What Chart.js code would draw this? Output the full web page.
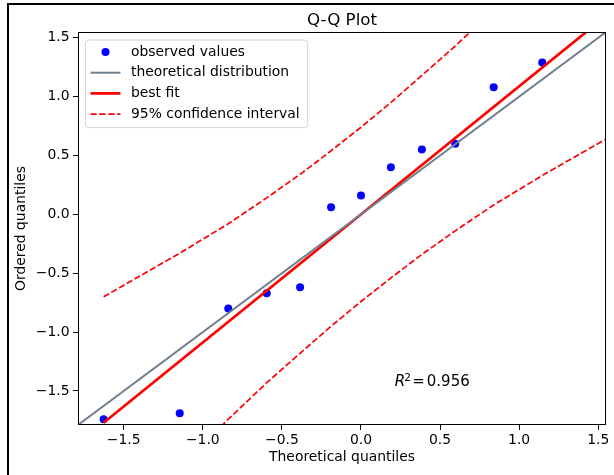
<!DOCTYPE html>
<html>
<head>
<meta charset="utf-8">
<title>Q-Q Plot</title>
<script src="https://cdn.jsdelivr.net/npm/chart.js@4.4.1/dist/chart.umd.min.js"></script>
<style>
  html, body { margin: 0; padding: 0; background: #fff; }
  #wrap { position: relative; width: 614px; height: 475px; }
  #frame {
    position: absolute; left: 7px; top: 3px; right: 0; bottom: 0;
    border-left: 2px solid #000; border-top: 2px solid #000;
    pointer-events: none;
  }
</style>
</head>
<body>
<div id="wrap">
  <canvas id="qq" width="614" height="475"></canvas>
  <div id="frame"></div>
</div>
<script>
// --- datos ---
const theoQuantiles = [-1.627, -1.146, -0.839, -0.596, -0.385, -0.189, 0.0, 0.189, 0.385, 0.596, 0.839, 1.146, 1.627];
const observedValues = [-1.74, -1.69, -0.80, -0.67, -0.62, 0.06, 0.16, 0.40, 0.55, 0.60, 1.08, 1.29];
const fitEndsX = [-1.627, 1.627];
const fitEndsY = [-1.77, 1.77];
const ciUpper = [-0.70, -0.33, -0.08, 0.14, 0.34, 0.54, 0.74, 0.95, 1.18, 1.43, 1.74, 2.16, 2.84];
const ciLower = [-2.84, -2.16, -1.74, -1.43, -1.18, -0.95, -0.74, -0.54, -0.34, -0.14, 0.08, 0.33, 0.70];
const axisRange = [-1.789, 1.549];
const tickValues = [-1.5, -1.0, -0.5, 0.0, 0.5, 1.0, 1.5];
const rSquared = 0.956;

const FONT = "'DejaVu Sans', 'Liberation Sans', sans-serif";
const TXT = 13.9;   // 10pt
Chart.defaults.font.family = FONT;
Chart.defaults.color = '#000';

const pts = (xs, ys) => ys.map((y, i) => ({ x: xs[i], y }));
const fmtTick = v => (Math.abs(v) < 1e-9 ? 0 : v).toFixed(1).replace('-', '\u2212');

// leyenda + R^2 + marco de los ejes (estilo matplotlib)
const qqOverlay = {
  id: 'qqOverlay',
  afterDatasetsDraw(chart) {
    const { ctx, chartArea: a } = chart;
    ctx.save();

    // spines
    ctx.strokeStyle = '#000';
    ctx.lineWidth = 1;
    ctx.strokeRect(Math.round(a.left) + 0.5, Math.round(a.top) + 0.5,
      Math.round(a.right - a.left) - 1, Math.round(a.bottom - a.top) - 1);

    // R^2
    const rx = a.left + 0.6 * (a.right - a.left);
    const ry = a.bottom - 0.098 * (a.bottom - a.top);
    ctx.fillStyle = '#000';
    ctx.textBaseline = 'alphabetic';
    ctx.textAlign = 'left';
    ctx.font = 'italic 15px ' + FONT;
    ctx.fillText('R', rx, ry);
    ctx.font = '10.5px ' + FONT;
    ctx.fillText('2', rx + 9.5, ry - 5);
    ctx.font = '15px ' + FONT;
    ctx.fillText('=', rx + 17.5, ry);
    ctx.fillText(rSquared.toFixed(3), rx + 32, ry);

    // legend
    const items = chart.data.datasets.filter(d => d.inLegend !== false);
    ctx.font = TXT + 'px ' + FONT;
    const maxW = Math.max(...items.map(d => ctx.measureText(d.label).width));
    const bx = a.left + 7, by = a.top + 7.5;
    const rowH = 20.7;
    const bw = 46 + maxW + 7.5;
    const bh = 12.5 + rowH * (items.length - 1) + 13;
    ctx.beginPath();
    ctx.roundRect(bx + 0.5, by + 0.5, bw, bh, 3);
    ctx.fillStyle = 'rgba(255,255,255,0.8)';
    ctx.fill();
    ctx.strokeStyle = '#d4d4d4';
    ctx.lineWidth = 1;
    ctx.stroke();

    items.forEach((d, i) => {
      const cy = by + 12.5 + i * rowH;
      if (d.showLine) {
        ctx.beginPath();
        ctx.setLineDash(d.borderDash || []);
        ctx.strokeStyle = d.borderColor;
        ctx.lineWidth = d.borderWidth;
        ctx.moveTo(bx + 5.5, cy);
        ctx.lineTo(bx + 35.5, cy);
        ctx.stroke();
        ctx.setLineDash([]);
      } else {
        ctx.beginPath();
        ctx.arc(bx + 20.5, cy, d.pointRadius, 0, Math.PI * 2);
        ctx.fillStyle = d.backgroundColor;
        ctx.fill();
      }
      ctx.fillStyle = '#000';
      ctx.textBaseline = 'middle';
      ctx.fillText(d.label, bx + 46, cy);
    });
    ctx.restore();
  }
};

const axisOpts = (titleText, isX) => ({
  type: 'linear',
  min: axisRange[0],
  max: axisRange[1],
  afterBuildTicks: s => { s.ticks = tickValues.map(v => ({ value: v })); },
  afterFit: s => {
    if (isX) s.height = 50; else s.width = 69;
    s.paddingLeft = s.paddingRight = s.paddingTop = s.paddingBottom = 0;
  },
  ticks: {
    callback: v => fmtTick(v),
    autoSkip: false,
    maxRotation: 0,
    padding: isX ? 2 : 3.5,
    font: { size: TXT },
    color: '#000'
  },
  grid: { drawOnChartArea: false, drawTicks: true, tickLength: 5, color: '#000', lineWidth: 1 },
  border: { display: false },
  title: {
    display: true,
    text: titleText,
    font: { size: TXT },
    color: '#000',
    padding: isX ? { top: 0, bottom: 9 } : { top: 4.5, bottom: 0 }
  }
});

new Chart(document.getElementById('qq'), {
  type: 'scatter',
  data: {
    datasets: [
      {
        label: 'observed values',
        data: pts(theoQuantiles, observedValues),
        showLine: false,
        pointRadius: 4,
        pointBorderWidth: 0,
        backgroundColor: '#0000ff',
        borderColor: '#0000ff',
        order: 4
      },
      {
        label: 'theoretical distribution',
        data: pts(axisRange, axisRange),
        showLine: true,
        borderColor: '#708090',
        borderWidth: 2,
        pointRadius: 0,
        clip: 0,
        order: 0
      },
      {
        label: 'best fit',
        data: pts(fitEndsX, fitEndsY),
        showLine: true,
        borderColor: '#ff0000',
        borderWidth: 2.7,
        pointRadius: 0,
        clip: 0,
        order: 3
      },
      {
        label: '95% confidence interval',
        data: pts(theoQuantiles, ciUpper),
        showLine: true,
        borderColor: '#ff0000',
        borderWidth: 1.7,
        borderDash: [6.2, 2.7],
        pointRadius: 0,
        clip: 0,
        order: 1
      },
      {
        label: '95% confidence interval',
        inLegend: false,
        data: pts(theoQuantiles, ciLower),
        showLine: true,
        borderColor: '#ff0000',
        borderWidth: 1.7,
        borderDash: [6.2, 2.7],
        pointRadius: 0,
        clip: 0,
        order: 2
      }
    ]
  },
  options: {
    responsive: false,
    animation: false,
    events: [],
    layout: { padding: { left: 9, right: 8, top: 0, bottom: 0 } },
    scales: {
      x: axisOpts('Theoretical quantiles', true),
      y: axisOpts('Ordered quantiles', false)
    },
    plugins: {
      legend: { display: false },
      tooltip: { enabled: false },
      title: {
        display: true,
        text: 'Q-Q Plot',
        fullSize: false,
        font: { size: 16.7, weight: 'normal' },
        color: '#000',
        padding: { top: 10.9, bottom: 1.06 }
      }
    }
  },
  plugins: [qqOverlay]
});
</script>
</body>
</html>
